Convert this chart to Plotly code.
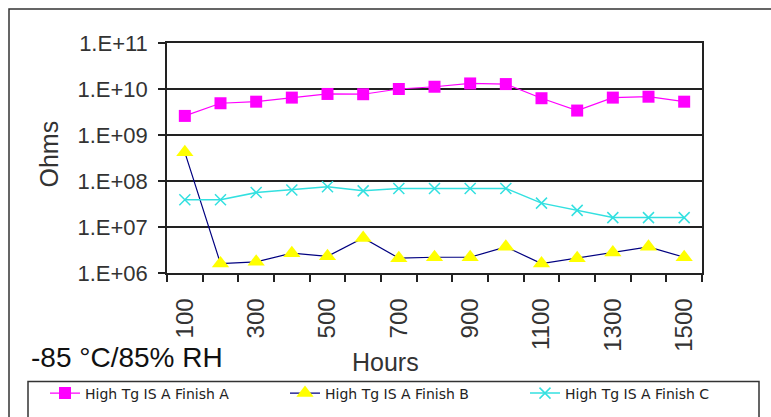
import plotly.graph_objects as go

hours = [100, 200, 300, 400, 500, 600, 700, 800, 900, 1000, 1100, 1200, 1300, 1400, 1500]
finish_a = [2.6e9, 4.9e9, 5.3e9, 6.5e9, 7.8e9, 7.7e9, 1.0e10, 1.12e10, 1.32e10, 1.28e10, 6.3e9, 3.4e9, 6.5e9, 6.8e9, 5.3e9]
finish_b = [4.2e8, 1.6e6, 1.75e6, 2.7e6, 2.3e6, 5.8e6, 2.1e6, 2.2e6, 2.2e6, 3.7e6, 1.6e6, 2.1e6, 2.8e6, 3.7e6, 2.2e6]
finish_c = [3.9e7, 3.9e7, 5.6e7, 6.4e7, 7.5e7, 6.1e7, 6.9e7, 6.9e7, 6.9e7, 6.9e7, 3.3e7, 2.3e7, 1.6e7, 1.6e7, 1.6e7]
names = ["High Tg IS A Finish A", "High Tg IS A Finish B", "High Tg IS A Finish C"]
x_labels = [100, 300, 500, 700, 900, 1100, 1300, 1500]
y_ticks = [1e6, 1e7, 1e8, 1e9, 1e10, 1e11]
y_labels = ["1.E+06", "1.E+07", "1.E+08", "1.E+09", "1.E+10", "1.E+11"]

W, H = 771, 417
L, R, T, B = 167, 69, 43, 144
pw, ph = W - L - R, H - T - B


def px(xp):
    return (xp - L) / pw


def py(yp):
    return (H - B - yp) / ph


fig = go.Figure()
fig.add_trace(go.Scatter(
    x=hours, y=finish_a, name=names[0], mode="lines+markers", legend="legend",
    line=dict(color="#FF00FF", width=1.2),
    marker=dict(symbol="square", size=12, color="#FF00FF"),
))
fig.add_trace(go.Scatter(
    x=hours, y=finish_b, name=names[1], mode="lines+markers", legend="legend2",
    line=dict(color="#000080", width=1.2),
    marker=dict(symbol="triangle-up", size=15, color="#FFFF00"),
))
fig.add_trace(go.Scatter(
    x=hours, y=finish_c, name=names[2], mode="lines+markers", legend="legend3",
    line=dict(color="#33E0E0", width=1.5),
    marker=dict(symbol="x-thin", size=11, color="#33E0E0",
                line=dict(color="#33E0E0", width=1.5)),
))

axis_font = dict(family="Liberation Sans, Arial", size=22, color="#333")


def legend_at(left_px):
    return dict(
        orientation="h", x=px(left_px), xanchor="left", y=py(393.5), yanchor="middle",
        font=dict(family="DejaVu Sans", size=14, color="#222"),
        bgcolor="rgba(0,0,0,0)", borderwidth=0, itemclick=False,
    )


fig.update_layout(
    width=W, height=H,
    margin=dict(l=L, r=R, t=T, b=B, autoexpand=False),
    paper_bgcolor="white", plot_bgcolor="white",
    showlegend=True,
    legend=legend_at(45),
    legend2=legend_at(285),
    legend3=legend_at(525),
    xaxis=dict(
        range=[50, 1550], tickmode="array", tickvals=x_labels,
        ticktext=[str(v) for v in x_labels], tickangle=-90,
        ticks="", ticklabelstandoff=14,
        tickfont=dict(family="Liberation Sans, Arial", size=24, color="#333"),
        showgrid=False, zeroline=False,
        showline=True, linecolor="#222", linewidth=1.5, mirror=True,
        minor=dict(tick0=50, dtick=100, ticks="outside", ticklen=7,
                   tickwidth=1.5, tickcolor="#222", showgrid=False),
    ),
    yaxis=dict(
        type="log", range=[6, 11], tickmode="array", tickvals=y_ticks,
        ticktext=y_labels, ticks="outside", ticklen=7, tickwidth=1.5,
        tickcolor="#222", ticklabelstandoff=6,
        tickfont=axis_font,
        showgrid=True, gridcolor="#222", gridwidth=1.5,
        showline=True, linecolor="#222", linewidth=1.5, mirror=True,
        zeroline=False,
    ),
    shapes=[
        dict(type="rect", xref="paper", yref="paper",
             x0=px(9), x1=px(790), y0=py(440), y1=py(9),
             line=dict(color="#333", width=1.5), fillcolor="rgba(0,0,0,0)",
             layer="below"),
        dict(type="rect", xref="paper", yref="paper",
             x0=px(28), x1=px(759), y0=py(440), y1=py(381.5),
             line=dict(color="#333", width=1.5), fillcolor="rgba(0,0,0,0)",
             layer="below"),
    ],
    annotations=[
        dict(text="Ohms", xref="paper", yref="paper", x=px(48.5), y=py(154),
             xanchor="center", yanchor="middle", textangle=-90, showarrow=False,
             font=dict(family="Liberation Sans, Arial", size=25, color="#333")),
        dict(text="Hours", xref="paper", yref="paper", x=px(385.5), y=py(362),
             xanchor="center", yanchor="middle", showarrow=False,
             font=dict(family="Liberation Sans, Arial", size=25, color="#333")),
        dict(text="-85 °C/85% RH", xref="paper", yref="paper", x=px(29), y=py(357.5),
             xanchor="left", yanchor="middle", showarrow=False,
             font=dict(family="Liberation Sans, Arial", size=28, color="#111")),
    ],
)

fig.write_html("out.html")
